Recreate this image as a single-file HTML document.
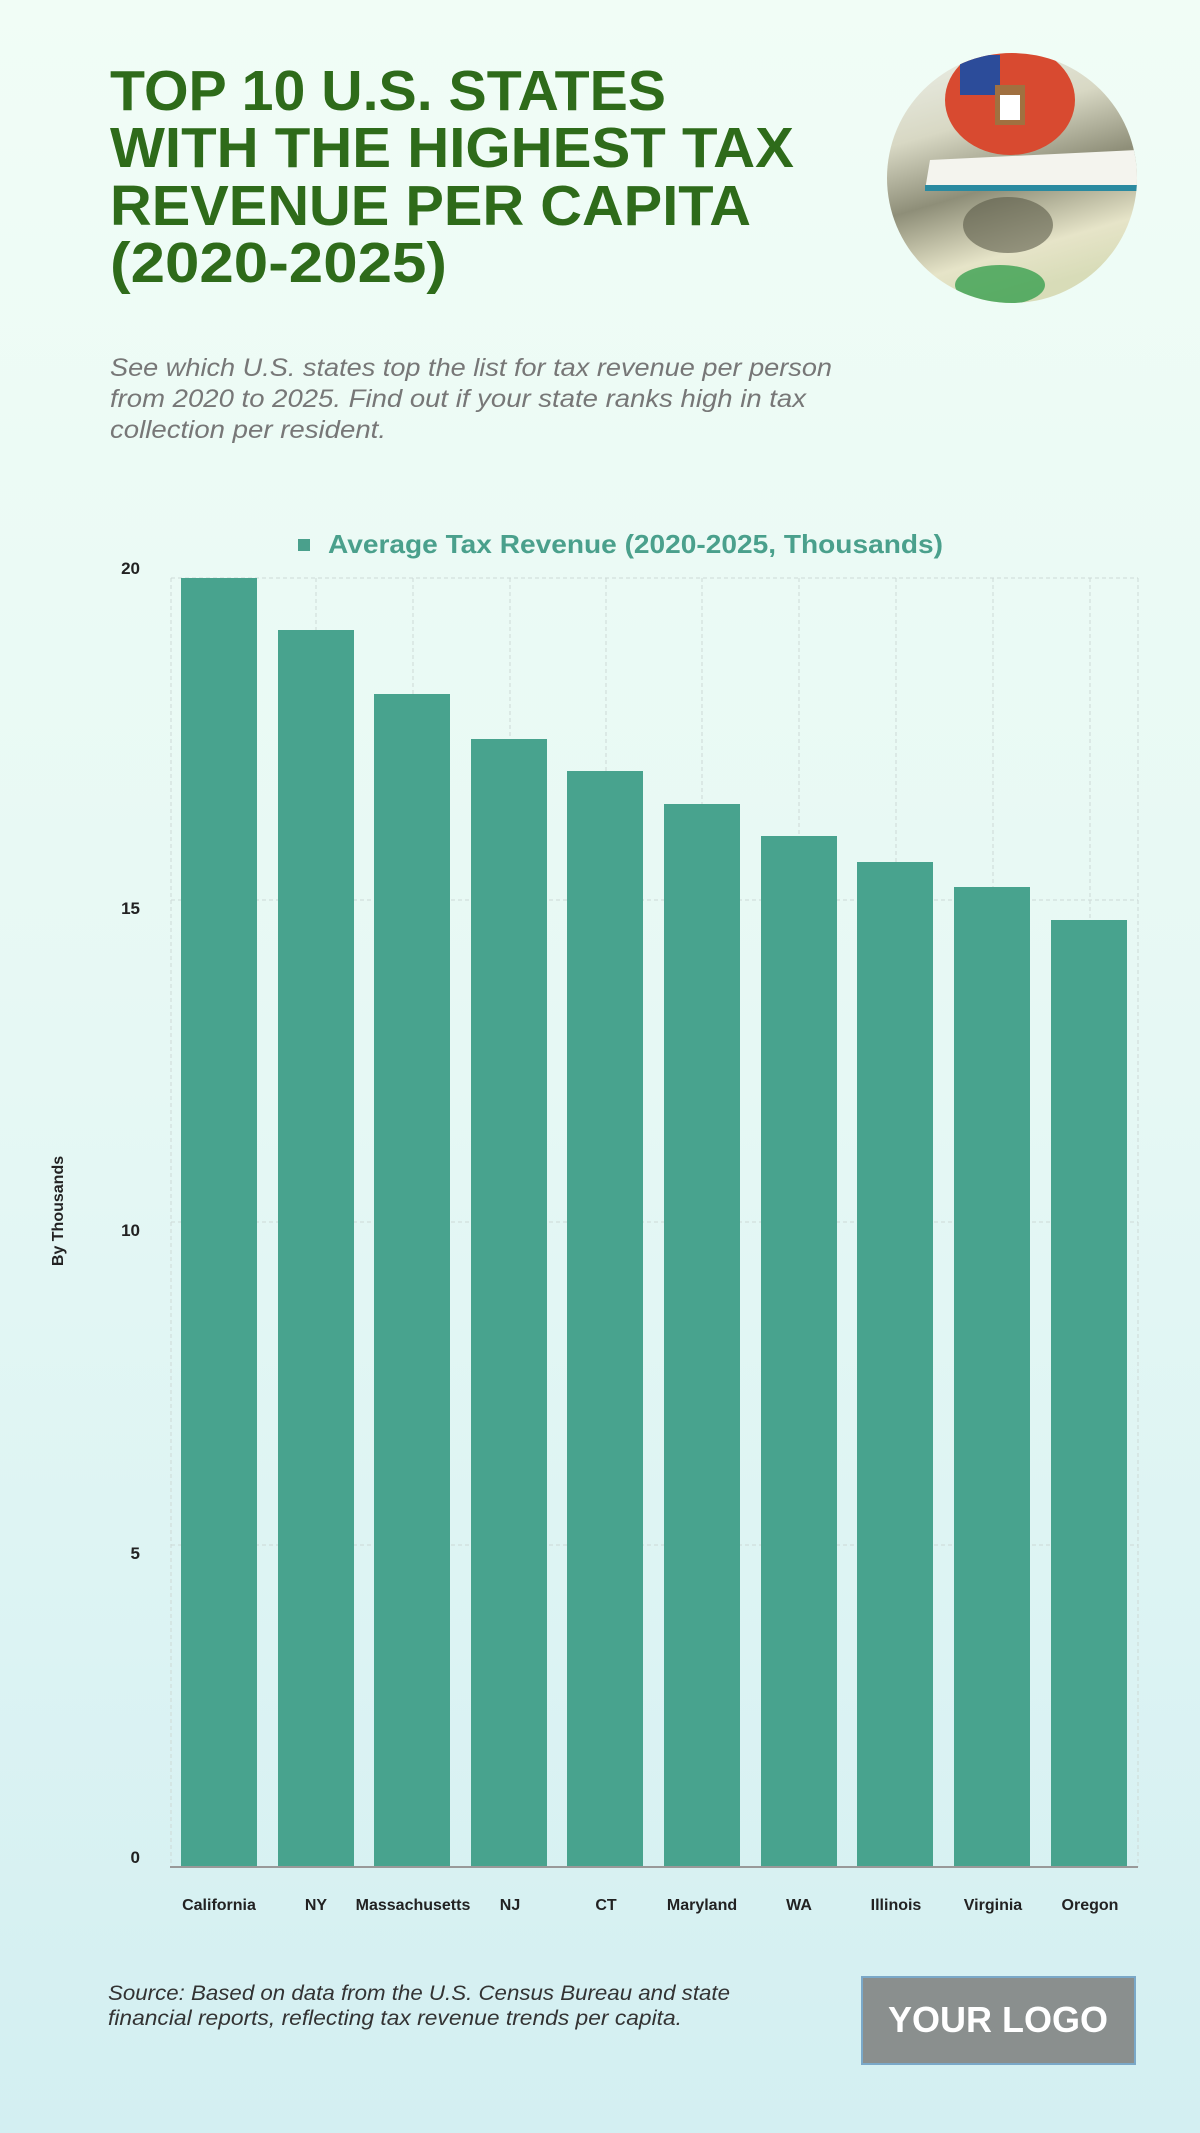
<!DOCTYPE html>
<html><head><meta charset="utf-8"><style>
html,body{margin:0;padding:0;width:1200px;height:2133px;overflow:hidden}
svg{display:block}
</style></head><body>
<svg width="1200" height="2133" viewBox="0 0 1200 2133" xmlns="http://www.w3.org/2000/svg">
<defs>
<linearGradient id="bg" x1="0" y1="0" x2="0" y2="1">
<stop offset="0" stop-color="#f1fdf6"/><stop offset="0.5" stop-color="#e6f8f4"/><stop offset="1" stop-color="#d3eff2"/>
</linearGradient>
<linearGradient id="money" x1="0" y1="0" x2="0.3" y2="1">
<stop offset="0" stop-color="#eef2ec"/><stop offset="0.35" stop-color="#d8d8c4"/><stop offset="0.6" stop-color="#8e8e78"/><stop offset="0.85" stop-color="#e6e4c8"/><stop offset="1" stop-color="#d8dcb8"/>
</linearGradient>
<clipPath id="cc"><circle cx="1012" cy="178" r="125"/></clipPath>
</defs>
<rect width="1200" height="2133" fill="url(#bg)"/>

<g font-family="Liberation Sans, sans-serif" font-weight="bold" font-size="57" fill="#2e6b1a" lengthAdjust="spacingAndGlyphs">
<text x="110" y="110" textLength="556" lengthAdjust="spacingAndGlyphs">TOP 10 U.S. STATES</text>
<text x="110" y="167" textLength="684" lengthAdjust="spacingAndGlyphs">WITH THE HIGHEST TAX</text>
<text x="110" y="225" textLength="641" lengthAdjust="spacingAndGlyphs">REVENUE PER CAPITA</text>
<text x="110" y="282" textLength="337" lengthAdjust="spacingAndGlyphs">(2020-2025)</text>
</g>
<g font-family="Liberation Sans, sans-serif" font-style="italic" font-size="25" fill="#777">
<text x="110" y="376" textLength="722" lengthAdjust="spacingAndGlyphs">See which U.S. states top the list for tax revenue per person</text>
<text x="110" y="407" textLength="696" lengthAdjust="spacingAndGlyphs">from 2020 to 2025. Find out if your state ranks high in tax</text>
<text x="110" y="438" textLength="276" lengthAdjust="spacingAndGlyphs">collection per resident.</text>
</g>

<g clip-path="url(#cc)">
<rect x="880" y="50" width="270" height="260" fill="url(#money)"/>
<polygon points="930,160 1137,150 1137,185 925,190" fill="#f4f4ee"/>
<rect x="925" y="185" width="215" height="6" fill="#2a8aa0"/>
<ellipse cx="1008" cy="225" rx="45" ry="28" fill="#5a5a48" opacity="0.6"/>
<ellipse cx="1000" cy="285" rx="45" ry="20" fill="#3aa050" opacity="0.8"/>
<ellipse cx="1010" cy="100" rx="65" ry="55" fill="#d84a30"/>
<rect x="960" y="55" width="40" height="40" fill="#2c4c9a"/>
<rect x="995" y="85" width="30" height="40" fill="#a07040"/>
<rect x="1000" y="95" width="20" height="25" fill="#fff"/>
</g>

<g font-family="Liberation Sans, sans-serif">
<rect x="298" y="539" width="12" height="12" fill="#4aa08c"/>
<text x="328" y="553" font-size="26" font-weight="bold" fill="#4aa08c" textLength="615" lengthAdjust="spacingAndGlyphs">Average Tax Revenue (2020-2025, Thousands)</text>
</g>

<g stroke="#cdd9d6" stroke-width="1" stroke-dasharray="4,3" fill="none">
<line x1="171" y1="578" x2="1138" y2="578"/>
<line x1="171" y1="900" x2="1138" y2="900"/>
<line x1="171" y1="1222" x2="1138" y2="1222"/>
<line x1="171" y1="1545" x2="1138" y2="1545"/>
<line x1="171" y1="578" x2="171" y2="1867"/>
<line x1="1138" y1="578" x2="1138" y2="1867"/>
<line x1="219" y1="578" x2="219" y2="1867"/>
<line x1="316" y1="578" x2="316" y2="1867"/>
<line x1="413" y1="578" x2="413" y2="1867"/>
<line x1="510" y1="578" x2="510" y2="1867"/>
<line x1="606" y1="578" x2="606" y2="1867"/>
<line x1="702" y1="578" x2="702" y2="1867"/>
<line x1="799" y1="578" x2="799" y2="1867"/>
<line x1="896" y1="578" x2="896" y2="1867"/>
<line x1="993" y1="578" x2="993" y2="1867"/>
<line x1="1090" y1="578" x2="1090" y2="1867"/>
</g>

<g fill="#48a38e">
<rect x="181" y="578" width="76" height="1289"/>
<rect x="278" y="630" width="76" height="1237"/>
<rect x="374" y="694" width="76" height="1173"/>
<rect x="471" y="739" width="76" height="1128"/>
<rect x="567" y="771" width="76" height="1096"/>
<rect x="664" y="804" width="76" height="1063"/>
<rect x="761" y="836" width="76" height="1031"/>
<rect x="857" y="862" width="76" height="1005"/>
<rect x="954" y="887" width="76" height="980"/>
<rect x="1051" y="920" width="76" height="947"/>
</g>
<line x1="170" y1="1867" x2="1138" y2="1867" stroke="#999" stroke-width="2"/>

<g font-family="Liberation Sans, sans-serif" font-size="17" font-weight="bold" fill="#222" text-anchor="end">
<text x="140" y="574">20</text>
<text x="140" y="914">15</text>
<text x="140" y="1236">10</text>
<text x="140" y="1559">5</text>
<text x="140" y="1863">0</text>
</g>
<text transform="translate(63,1211) rotate(-90)" font-family="Liberation Sans, sans-serif" font-size="16" font-weight="bold" fill="#222" text-anchor="middle">By Thousands</text>

<g font-family="Liberation Sans, sans-serif" font-size="16" font-weight="bold" fill="#222" text-anchor="middle">
<text x="219" y="1910">California</text>
<text x="316" y="1910">NY</text>
<text x="413" y="1910">Massachusetts</text>
<text x="510" y="1910">NJ</text>
<text x="606" y="1910">CT</text>
<text x="702" y="1910">Maryland</text>
<text x="799" y="1910">WA</text>
<text x="896" y="1910">Illinois</text>
<text x="993" y="1910">Virginia</text>
<text x="1090" y="1910">Oregon</text>
</g>

<g font-family="Liberation Sans, sans-serif" font-style="italic" font-size="21" fill="#333">
<text x="108" y="2000" textLength="622" lengthAdjust="spacingAndGlyphs">Source: Based on data from the U.S. Census Bureau and state</text>
<text x="108" y="2025" textLength="574" lengthAdjust="spacingAndGlyphs">financial reports, reflecting tax revenue trends per capita.</text>
</g>

<rect x="862" y="1977" width="273" height="87" fill="#8a8f8e" stroke="#7aa8c8" stroke-width="2"/>
<text x="998" y="2032" font-family="Liberation Sans, sans-serif" font-size="36" font-weight="bold" fill="#fff" text-anchor="middle">YOUR LOGO</text>
</svg>
</body></html>
